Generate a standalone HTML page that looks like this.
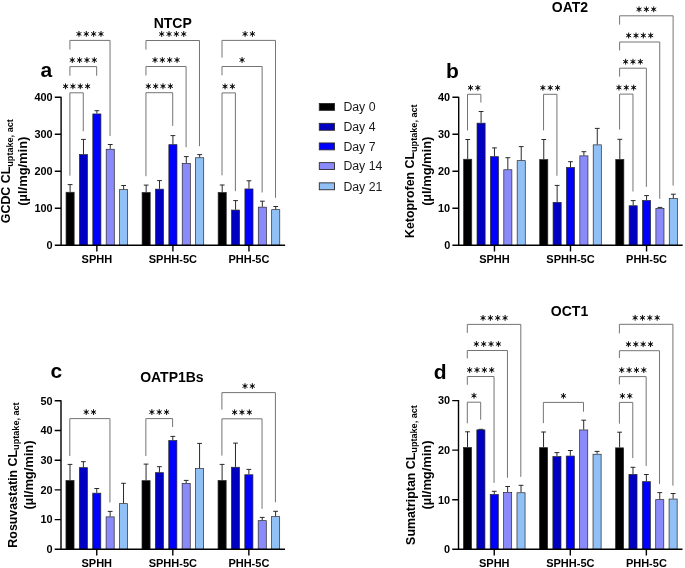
<!DOCTYPE html>
<html><head><meta charset="utf-8"><style>
html,body{margin:0;padding:0;background:#fff;}
body{width:685px;height:568px;overflow:hidden;}
svg{display:block;}
text{font-family:"Liberation Sans",sans-serif;fill:#000;}
.tk{font-size:10.9px;font-weight:bold;}
.xl{font-size:11px;font-weight:bold;}
.ti{font-size:14px;font-weight:bold;}
.lt{font-size:21px;font-weight:bold;}
.yt{font-size:12.4px;font-weight:bold;}
.yt2{font-size:12.9px;}
.sub{font-size:9.1px;font-weight:bold;}
.lg{font-size:12.3px;fill:#1a1a1a;}
</style></head><body>
<svg width="685" height="568" viewBox="0 0 685 568">
<rect width="685" height="568" fill="#fff"/>
<rect x="66.05" y="192.25" width="8.1" height="53.05" fill="#000000" stroke="#2a2a2a" stroke-width="0.7"/>
<rect x="79.43" y="154.55" width="8.1" height="90.75" fill="#0000C0" stroke="#2a2a2a" stroke-width="0.7"/>
<rect x="92.81" y="113.95" width="8.1" height="131.35" fill="#0000FF" stroke="#2a2a2a" stroke-width="0.7"/>
<rect x="106.19" y="149.25" width="8.1" height="96.05" fill="#8A8AFA" stroke="#2a2a2a" stroke-width="0.7"/>
<rect x="119.57" y="189.65" width="8.1" height="55.65" fill="#90C0F6" stroke="#2a2a2a" stroke-width="0.7"/>
<rect x="142.1" y="192.45" width="8.1" height="52.85" fill="#000000" stroke="#2a2a2a" stroke-width="0.7"/>
<rect x="155.48" y="189.15" width="8.1" height="56.15" fill="#0000C0" stroke="#2a2a2a" stroke-width="0.7"/>
<rect x="168.86" y="144.65" width="8.1" height="100.65" fill="#0000FF" stroke="#2a2a2a" stroke-width="0.7"/>
<rect x="182.24" y="163.45" width="8.1" height="81.85" fill="#8A8AFA" stroke="#2a2a2a" stroke-width="0.7"/>
<rect x="195.62" y="157.75" width="8.1" height="87.55" fill="#90C0F6" stroke="#2a2a2a" stroke-width="0.7"/>
<rect x="218.15" y="192.45" width="8.1" height="52.85" fill="#000000" stroke="#2a2a2a" stroke-width="0.7"/>
<rect x="231.53" y="210.05" width="8.1" height="35.25" fill="#0000C0" stroke="#2a2a2a" stroke-width="0.7"/>
<rect x="244.91" y="188.95" width="8.1" height="56.35" fill="#0000FF" stroke="#2a2a2a" stroke-width="0.7"/>
<rect x="258.29" y="207.15" width="8.1" height="38.15" fill="#8A8AFA" stroke="#2a2a2a" stroke-width="0.7"/>
<rect x="271.67" y="209.65" width="8.1" height="35.65" fill="#90C0F6" stroke="#2a2a2a" stroke-width="0.7"/>
<path d="M70.1 191.9V184.5M67.7 184.6h4.8M83.48 154.2V139.3M81.08 139.4h4.8M96.86 113.6V110.6M94.46 110.7h4.8M110.24 148.9V144.4M107.84 144.5h4.8M123.62 189.3V185.4M121.22 185.5h4.8M146.15 192.1V185M143.75 185.1h4.8M159.53 188.8V180.5M157.13 180.6h4.8M172.91 144.3V135.5M170.51 135.6h4.8M186.29 163.1V156.5M183.89 156.6h4.8M199.67 157.4V154.5M197.27 154.6h4.8M222.2 192.1V184.9M219.8 185h4.8M235.58 209.7V200.5M233.18 200.6h4.8M248.96 188.6V180.7M246.56 180.8h4.8M262.34 206.8V201.1M259.94 201.2h4.8M275.72 209.3V206.4M273.32 206.5h4.8" stroke="#2a2a2a" stroke-width="1" fill="none"/>
<path d="M61.1 96.7V245.3H285.1M54.8 245.3H61.1M54.8 208.3H61.1M54.8 171.3H61.1M54.8 134.3H61.1M54.8 97.3H61.1M96.86 245.3V251.5M172.91 245.3V251.5M248.96 245.3V251.5" stroke="#000" stroke-width="1.4" fill="none"/>
<rect x="463.65" y="159.25" width="8.1" height="86.05" fill="#000000" stroke="#2a2a2a" stroke-width="0.7"/>
<rect x="477.03" y="123.15" width="8.1" height="122.15" fill="#0000C0" stroke="#2a2a2a" stroke-width="0.7"/>
<rect x="490.41" y="156.65" width="8.1" height="88.65" fill="#0000FF" stroke="#2a2a2a" stroke-width="0.7"/>
<rect x="503.79" y="169.75" width="8.1" height="75.55" fill="#8A8AFA" stroke="#2a2a2a" stroke-width="0.7"/>
<rect x="517.17" y="160.65" width="8.1" height="84.65" fill="#90C0F6" stroke="#2a2a2a" stroke-width="0.7"/>
<rect x="539.7" y="159.55" width="8.1" height="85.75" fill="#000000" stroke="#2a2a2a" stroke-width="0.7"/>
<rect x="553.08" y="202.35" width="8.1" height="42.95" fill="#0000C0" stroke="#2a2a2a" stroke-width="0.7"/>
<rect x="566.46" y="167.45" width="8.1" height="77.85" fill="#0000FF" stroke="#2a2a2a" stroke-width="0.7"/>
<rect x="579.84" y="155.85" width="8.1" height="89.45" fill="#8A8AFA" stroke="#2a2a2a" stroke-width="0.7"/>
<rect x="593.22" y="144.85" width="8.1" height="100.45" fill="#90C0F6" stroke="#2a2a2a" stroke-width="0.7"/>
<rect x="615.75" y="159.45" width="8.1" height="85.85" fill="#000000" stroke="#2a2a2a" stroke-width="0.7"/>
<rect x="629.13" y="205.75" width="8.1" height="39.55" fill="#0000C0" stroke="#2a2a2a" stroke-width="0.7"/>
<rect x="642.51" y="200.45" width="8.1" height="44.85" fill="#0000FF" stroke="#2a2a2a" stroke-width="0.7"/>
<rect x="655.89" y="208.35" width="8.1" height="36.95" fill="#8A8AFA" stroke="#2a2a2a" stroke-width="0.7"/>
<rect x="669.27" y="198.45" width="8.1" height="46.85" fill="#90C0F6" stroke="#2a2a2a" stroke-width="0.7"/>
<path d="M467.7 158.9V139.4M465.3 139.5h4.8M481.08 122.8V111.4M478.68 111.5h4.8M494.46 156.3V147.8M492.06 147.9h4.8M507.84 169.4V157.6M505.44 157.7h4.8M521.22 160.3V146.5M518.82 146.6h4.8M543.75 159.2V139.4M541.35 139.5h4.8M557.13 202V185.3M554.73 185.4h4.8M570.51 167.1V161.6M568.11 161.7h4.8M583.89 155.5V151.6M581.49 151.7h4.8M597.27 144.5V128.3M594.87 128.4h4.8M619.8 159.1V139.2M617.4 139.3h4.8M633.18 205.4V200.5M630.78 200.6h4.8M646.56 200.1V195.5M644.16 195.6h4.8M659.94 208V207.3M657.54 207.4h4.8M673.32 198.1V194.1M670.92 194.2h4.8" stroke="#2a2a2a" stroke-width="1" fill="none"/>
<path d="M458.7 96.7V245.3H682.7M452.4 245.3H458.7M452.4 208.3H458.7M452.4 171.3H458.7M452.4 134.3H458.7M452.4 97.3H458.7M494.46 245.3V251.5M570.51 245.3V251.5M646.56 245.3V251.5" stroke="#000" stroke-width="1.4" fill="none"/>
<rect x="65.95" y="480.45" width="8.1" height="68.85" fill="#000000" stroke="#2a2a2a" stroke-width="0.7"/>
<rect x="79.33" y="467.65" width="8.1" height="81.65" fill="#0000C0" stroke="#2a2a2a" stroke-width="0.7"/>
<rect x="92.71" y="493.15" width="8.1" height="56.15" fill="#0000FF" stroke="#2a2a2a" stroke-width="0.7"/>
<rect x="106.09" y="516.85" width="8.1" height="32.45" fill="#8A8AFA" stroke="#2a2a2a" stroke-width="0.7"/>
<rect x="119.47" y="503.65" width="8.1" height="45.65" fill="#90C0F6" stroke="#2a2a2a" stroke-width="0.7"/>
<rect x="142" y="480.65" width="8.1" height="68.65" fill="#000000" stroke="#2a2a2a" stroke-width="0.7"/>
<rect x="155.38" y="472.65" width="8.1" height="76.65" fill="#0000C0" stroke="#2a2a2a" stroke-width="0.7"/>
<rect x="168.76" y="440.45" width="8.1" height="108.85" fill="#0000FF" stroke="#2a2a2a" stroke-width="0.7"/>
<rect x="182.14" y="483.35" width="8.1" height="65.95" fill="#8A8AFA" stroke="#2a2a2a" stroke-width="0.7"/>
<rect x="195.52" y="468.55" width="8.1" height="80.75" fill="#90C0F6" stroke="#2a2a2a" stroke-width="0.7"/>
<rect x="218.05" y="480.45" width="8.1" height="68.85" fill="#000000" stroke="#2a2a2a" stroke-width="0.7"/>
<rect x="231.43" y="467.25" width="8.1" height="82.05" fill="#0000C0" stroke="#2a2a2a" stroke-width="0.7"/>
<rect x="244.81" y="474.75" width="8.1" height="74.55" fill="#0000FF" stroke="#2a2a2a" stroke-width="0.7"/>
<rect x="258.19" y="520.65" width="8.1" height="28.65" fill="#8A8AFA" stroke="#2a2a2a" stroke-width="0.7"/>
<rect x="271.57" y="516.65" width="8.1" height="32.65" fill="#90C0F6" stroke="#2a2a2a" stroke-width="0.7"/>
<path d="M70 480.1V464.3M67.6 464.4h4.8M83.38 467.3V461.6M80.98 461.7h4.8M96.76 492.8V488.4M94.36 488.5h4.8M110.14 516.5V511.3M107.74 511.4h4.8M123.52 503.3V483.2M121.12 483.3h4.8M146.05 480.3V464M143.65 464.1h4.8M159.43 472.3V466.6M157.03 466.7h4.8M172.81 440.1V436.3M170.41 436.4h4.8M186.19 483V480.3M183.79 480.4h4.8M199.57 468.2V443.3M197.17 443.4h4.8M222.1 480.1V464.3M219.7 464.4h4.8M235.48 466.9V443M233.08 443.1h4.8M248.86 474.4V469.3M246.46 469.4h4.8M262.24 520.3V517.3M259.84 517.4h4.8M275.62 516.3V511.2M273.22 511.3h4.8" stroke="#2a2a2a" stroke-width="1" fill="none"/>
<path d="M61 400.2V549.3H285M54.7 549.3H61M54.7 519.6H61M54.7 489.9H61M54.7 460.2H61M54.7 430.5H61M54.7 400.8H61M96.76 549.3V555.5M172.81 549.3V555.5M248.86 549.3V555.5" stroke="#000" stroke-width="1.4" fill="none"/>
<rect x="463.45" y="447.45" width="8.1" height="101.85" fill="#000000" stroke="#2a2a2a" stroke-width="0.7"/>
<rect x="476.83" y="429.85" width="8.1" height="119.45" fill="#0000C0" stroke="#2a2a2a" stroke-width="0.7"/>
<rect x="490.21" y="494.45" width="8.1" height="54.85" fill="#0000FF" stroke="#2a2a2a" stroke-width="0.7"/>
<rect x="503.59" y="492.45" width="8.1" height="56.85" fill="#8A8AFA" stroke="#2a2a2a" stroke-width="0.7"/>
<rect x="516.97" y="492.75" width="8.1" height="56.55" fill="#90C0F6" stroke="#2a2a2a" stroke-width="0.7"/>
<rect x="539.5" y="447.65" width="8.1" height="101.65" fill="#000000" stroke="#2a2a2a" stroke-width="0.7"/>
<rect x="552.88" y="456.55" width="8.1" height="92.75" fill="#0000C0" stroke="#2a2a2a" stroke-width="0.7"/>
<rect x="566.26" y="456.05" width="8.1" height="93.25" fill="#0000FF" stroke="#2a2a2a" stroke-width="0.7"/>
<rect x="579.64" y="429.95" width="8.1" height="119.35" fill="#8A8AFA" stroke="#2a2a2a" stroke-width="0.7"/>
<rect x="593.02" y="454.25" width="8.1" height="95.05" fill="#90C0F6" stroke="#2a2a2a" stroke-width="0.7"/>
<rect x="615.55" y="447.85" width="8.1" height="101.45" fill="#000000" stroke="#2a2a2a" stroke-width="0.7"/>
<rect x="628.93" y="474.35" width="8.1" height="74.95" fill="#0000C0" stroke="#2a2a2a" stroke-width="0.7"/>
<rect x="642.31" y="481.65" width="8.1" height="67.65" fill="#0000FF" stroke="#2a2a2a" stroke-width="0.7"/>
<rect x="655.69" y="499.65" width="8.1" height="49.65" fill="#8A8AFA" stroke="#2a2a2a" stroke-width="0.7"/>
<rect x="669.07" y="499.05" width="8.1" height="50.25" fill="#90C0F6" stroke="#2a2a2a" stroke-width="0.7"/>
<path d="M467.5 447.1V431.7M465.1 431.8h4.8M480.88 429.5V429.2M478.48 429.3h4.8M494.26 494.1V491.2M491.86 491.3h4.8M507.64 492.1V486.4M505.24 486.5h4.8M521.02 492.4V485.2M518.62 485.3h4.8M543.55 447.3V431.9M541.15 432h4.8M556.93 456.2V452.5M554.53 452.6h4.8M570.31 455.7V450.4M567.91 450.5h4.8M583.69 429.6V420.1M581.29 420.2h4.8M597.07 453.9V451.3M594.67 451.4h4.8M619.6 447.5V432.1M617.2 432.2h4.8M632.98 474V467.2M630.58 467.3h4.8M646.36 481.3V474.4M643.96 474.5h4.8M659.74 499.3V492.5M657.34 492.6h4.8M673.12 498.7V493.4M670.72 493.5h4.8" stroke="#2a2a2a" stroke-width="1" fill="none"/>
<path d="M458.5 400V549.3H682.5M452.2 549.3H458.5M452.2 499.73H458.5M452.2 450.17H458.5M452.2 400.6H458.5M494.26 549.3V555.5M570.31 549.3V555.5M646.36 549.3V555.5" stroke="#000" stroke-width="1.4" fill="none"/>
<path d="M69.9 175.7V92.8H83.28V131.3M69.9 75.7V66.6H96.66V75.7M69.9 49.5V40.4H110.04V136.1M145.95 176.2V92.7H172.71V125.9M145.95 75.4V66.5H186.09V147.2M145.95 49.6V40.5H199.47V146.2M222 175.3V92.9H235.38V191.2M222 75.3V66.5H262.14V192.5M222 57.6V40.4H275.52V197.8M467.5 130.4V94.3H480.88V102.6M543.55 130.4V94.3H556.93V175.8M619.6 129.6V94.1H632.98V191.5M619.6 76.6V68.2H646.36V186.9M619.6 50.4V42H659.74V198.8M619.6 24.6V15.8H673.12V185.6M69.8 456V418.6H109.94V502.5M145.85 456V418.6H172.61V427M221.9 455.6V418.8H262.04V508.8M221.9 409.6V392.6H275.42V502.3M467.3 423.3V402.2H480.68V419.7M467.3 384.8V376.5H494.06V482.9M467.3 358.4V350.5H507.44V477.8M467.3 332.9V324.4H520.82V476.9M543.35 423.1V402.4H583.49V411.7M619.4 423.7V402.4H632.78V458.1M619.4 384.4V376.6H646.16V465.9M619.4 358V350.7H659.54V484.1M619.4 333.4V324.3H672.92V485.6" stroke="#747474" stroke-width="1" fill="none"/>
<path d="M65.56 83.4L65.56 89.2M63.05 84.85L68.08 87.75M63.05 87.75L68.08 84.85M72.91 83.4L72.91 89.2M70.4 84.85L75.43 87.75M70.4 87.75L75.43 84.85M80.27 83.4L80.27 89.2M77.75 84.85L82.78 87.75M77.75 87.75L82.78 84.85M87.61 83.4L87.61 89.2M85.1 84.85L90.13 87.75M85.1 87.75L90.13 84.85M72.25 57.2L72.25 63M69.74 58.65L74.77 61.55M69.74 61.55L74.77 58.65M79.6 57.2L79.6 63M77.09 58.65L82.12 61.55M77.09 61.55L82.12 58.65M86.95 57.2L86.95 63M84.44 58.65L89.47 61.55M84.44 61.55L89.47 58.65M94.3 57.2L94.3 63M91.79 58.65L96.82 61.55M91.79 61.55L96.82 58.65M78.94 31L78.94 36.8M76.43 32.45L81.46 35.35M76.43 35.35L81.46 32.45M86.29 31L86.29 36.8M83.78 32.45L88.81 35.35M83.78 35.35L88.81 32.45M93.64 31L93.64 36.8M91.13 32.45L96.16 35.35M91.13 35.35L96.16 32.45M100.99 31L100.99 36.8M98.48 32.45L103.51 35.35M98.48 35.35L103.51 32.45M148.31 83.3L148.31 89.1M145.79 84.75L150.82 87.65M145.79 87.65L150.82 84.75M155.66 83.3L155.66 89.1M153.14 84.75L158.17 87.65M153.14 87.65L158.17 84.75M163 83.3L163 89.1M160.49 84.75L165.52 87.65M160.49 87.65L165.52 84.75M170.36 83.3L170.36 89.1M167.84 84.75L172.87 87.65M167.84 87.65L172.87 84.75M155 57.1L155 62.9M152.48 58.55L157.51 61.45M152.48 61.45L157.51 58.55M162.34 57.1L162.34 62.9M159.83 58.55L164.86 61.45M159.83 61.45L164.86 58.55M169.69 57.1L169.69 62.9M167.18 58.55L172.21 61.45M167.18 61.45L172.21 58.55M177.05 57.1L177.05 62.9M174.53 58.55L179.56 61.45M174.53 61.45L179.56 58.55M161.69 31.1L161.69 36.9M159.17 32.55L164.2 35.45M159.17 35.45L164.2 32.55M169.04 31.1L169.04 36.9M166.52 32.55L171.55 35.45M166.52 35.45L171.55 32.55M176.39 31.1L176.39 36.9M173.87 32.55L178.9 35.45M173.87 35.45L178.9 32.55M183.74 31.1L183.74 36.9M181.22 32.55L186.25 35.45M181.22 35.45L186.25 32.55M225.02 83.5L225.02 89.3M222.5 84.95L227.53 87.85M222.5 87.85L227.53 84.95M232.37 83.5L232.37 89.3M229.85 84.95L234.88 87.85M229.85 87.85L234.88 84.95M242.07 57.1L242.07 62.9M239.56 58.55L244.58 61.45M239.56 61.45L244.58 58.55M245.08 31L245.08 36.8M242.57 32.45L247.6 35.35M242.57 35.35L247.6 32.45M252.43 31L252.43 36.8M249.92 32.45L254.95 35.35M249.92 35.35L254.95 32.45M470.51 84.9L470.51 90.7M468 86.35L473.03 89.25M468 89.25L473.03 86.35M477.87 84.9L477.87 90.7M475.35 86.35L480.38 89.25M475.35 89.25L480.38 86.35M542.89 84.9L542.89 90.7M540.38 86.35L545.4 89.25M540.38 89.25L545.4 86.35M550.24 84.9L550.24 90.7M547.73 86.35L552.75 89.25M547.73 89.25L552.75 86.35M557.59 84.9L557.59 90.7M555.08 86.35L560.1 89.25M555.08 89.25L560.1 86.35M618.94 84.7L618.94 90.5M616.43 86.15L621.45 89.05M616.43 89.05L621.45 86.15M626.29 84.7L626.29 90.5M623.78 86.15L628.8 89.05M623.78 89.05L628.8 86.15M633.64 84.7L633.64 90.5M631.13 86.15L636.15 89.05M631.13 89.05L636.15 86.15M625.63 58.8L625.63 64.6M623.12 60.25L628.14 63.15M623.12 63.15L628.14 60.25M632.98 58.8L632.98 64.6M630.47 60.25L635.49 63.15M630.47 63.15L635.49 60.25M640.33 58.8L640.33 64.6M637.82 60.25L642.84 63.15M637.82 63.15L642.84 60.25M628.64 32.6L628.64 38.4M626.13 34.05L631.16 36.95M626.13 36.95L631.16 34.05M635.99 32.6L635.99 38.4M633.48 34.05L638.51 36.95M633.48 36.95L638.51 34.05M643.34 32.6L643.34 38.4M640.83 34.05L645.86 36.95M640.83 36.95L645.86 34.05M650.69 32.6L650.69 38.4M648.18 34.05L653.21 36.95M648.18 36.95L653.21 34.05M639.01 6.4L639.01 12.2M636.5 7.85L641.52 10.75M636.5 10.75L641.52 7.85M646.36 6.4L646.36 12.2M643.85 7.85L648.87 10.75M643.85 10.75L648.87 7.85M653.71 6.4L653.71 12.2M651.2 7.85L656.22 10.75M651.2 10.75L656.22 7.85M86.2 409.2L86.2 415M83.68 410.65L88.71 413.55M83.68 413.55L88.71 410.65M93.55 409.2L93.55 415M91.03 410.65L96.06 413.55M91.03 413.55L96.06 410.65M151.88 409.2L151.88 415M149.37 410.65L154.39 413.55M149.37 413.55L154.39 410.65M159.23 409.2L159.23 415M156.72 410.65L161.74 413.55M156.72 413.55L161.74 410.65M166.58 409.2L166.58 415M164.07 410.65L169.09 413.55M164.07 413.55L169.09 410.65M234.62 409.4L234.62 415.2M232.11 410.85L237.13 413.75M232.11 413.75L237.13 410.85M241.97 409.4L241.97 415.2M239.46 410.85L244.48 413.75M239.46 413.75L244.48 410.85M249.32 409.4L249.32 415.2M246.81 410.85L251.83 413.75M246.81 413.75L251.83 410.85M244.98 383.2L244.98 389M242.47 384.65L247.5 387.55M242.47 387.55L247.5 384.65M252.33 383.2L252.33 389M249.82 384.65L254.85 387.55M249.82 387.55L254.85 384.65M473.99 392.8L473.99 398.6M471.48 394.25L476.5 397.15M471.48 397.15L476.5 394.25M469.66 367.1L469.66 372.9M467.14 368.55L472.17 371.45M467.14 371.45L472.17 368.55M477.01 367.1L477.01 372.9M474.49 368.55L479.52 371.45M474.49 371.45L479.52 368.55M484.36 367.1L484.36 372.9M481.84 368.55L486.87 371.45M481.84 371.45L486.87 368.55M491.71 367.1L491.71 372.9M489.19 368.55L494.22 371.45M489.19 371.45L494.22 368.55M476.35 341.1L476.35 346.9M473.83 342.55L478.86 345.45M473.83 345.45L478.86 342.55M483.7 341.1L483.7 346.9M481.18 342.55L486.21 345.45M481.18 345.45L486.21 342.55M491.05 341.1L491.05 346.9M488.53 342.55L493.56 345.45M488.53 345.45L493.56 342.55M498.4 341.1L498.4 346.9M495.88 342.55L500.91 345.45M495.88 345.45L500.91 342.55M483.03 315L483.03 320.8M480.52 316.45L485.55 319.35M480.52 319.35L485.55 316.45M490.38 315L490.38 320.8M487.87 316.45L492.9 319.35M487.87 319.35L492.9 316.45M497.73 315L497.73 320.8M495.22 316.45L500.25 319.35M495.22 319.35L500.25 316.45M505.08 315L505.08 320.8M502.57 316.45L507.6 319.35M502.57 319.35L507.6 316.45M563.42 393L563.42 398.8M560.91 394.45L565.93 397.35M560.91 397.35L565.93 394.45M622.41 393L622.41 398.8M619.9 394.45L624.93 397.35M619.9 397.35L624.93 394.45M629.76 393L629.76 398.8M627.25 394.45L632.28 397.35M627.25 397.35L632.28 394.45M621.75 367.2L621.75 373M619.24 368.65L624.27 371.55M619.24 371.55L624.27 368.65M629.11 367.2L629.11 373M626.59 368.65L631.62 371.55M626.59 371.55L631.62 368.65M636.46 367.2L636.46 373M633.94 368.65L638.97 371.55M633.94 371.55L638.97 368.65M643.8 367.2L643.8 373M641.29 368.65L646.32 371.55M641.29 371.55L646.32 368.65M628.45 341.3L628.45 347.1M625.93 342.75L630.96 345.65M625.93 345.65L630.96 342.75M635.8 341.3L635.8 347.1M633.28 342.75L638.31 345.65M633.28 345.65L638.31 342.75M643.15 341.3L643.15 347.1M640.63 342.75L645.66 345.65M640.63 345.65L645.66 342.75M650.5 341.3L650.5 347.1M647.98 342.75L653.01 345.65M647.98 345.65L653.01 342.75M635.13 314.9L635.13 320.7M632.62 316.35L637.65 319.25M632.62 319.25L637.65 316.35M642.49 314.9L642.49 320.7M639.97 316.35L645 319.25M639.97 319.25L645 316.35M649.84 314.9L649.84 320.7M647.32 316.35L652.35 319.25M647.32 319.25L652.35 316.35M657.18 314.9L657.18 320.7M654.67 316.35L659.7 319.25M654.67 319.25L659.7 316.35" stroke="#111" stroke-width="1.0" fill="none" stroke-linecap="butt"/>
<g fill="#111"><circle cx="65.56" cy="86.3" r="1.25"/><circle cx="72.91" cy="86.3" r="1.25"/><circle cx="80.27" cy="86.3" r="1.25"/><circle cx="87.61" cy="86.3" r="1.25"/><circle cx="72.25" cy="60.1" r="1.25"/><circle cx="79.6" cy="60.1" r="1.25"/><circle cx="86.95" cy="60.1" r="1.25"/><circle cx="94.3" cy="60.1" r="1.25"/><circle cx="78.94" cy="33.9" r="1.25"/><circle cx="86.29" cy="33.9" r="1.25"/><circle cx="93.64" cy="33.9" r="1.25"/><circle cx="100.99" cy="33.9" r="1.25"/><circle cx="148.31" cy="86.2" r="1.25"/><circle cx="155.66" cy="86.2" r="1.25"/><circle cx="163" cy="86.2" r="1.25"/><circle cx="170.36" cy="86.2" r="1.25"/><circle cx="155" cy="60" r="1.25"/><circle cx="162.34" cy="60" r="1.25"/><circle cx="169.69" cy="60" r="1.25"/><circle cx="177.05" cy="60" r="1.25"/><circle cx="161.69" cy="34" r="1.25"/><circle cx="169.04" cy="34" r="1.25"/><circle cx="176.39" cy="34" r="1.25"/><circle cx="183.74" cy="34" r="1.25"/><circle cx="225.02" cy="86.4" r="1.25"/><circle cx="232.37" cy="86.4" r="1.25"/><circle cx="242.07" cy="60" r="1.25"/><circle cx="245.08" cy="33.9" r="1.25"/><circle cx="252.43" cy="33.9" r="1.25"/><circle cx="470.51" cy="87.8" r="1.25"/><circle cx="477.87" cy="87.8" r="1.25"/><circle cx="542.89" cy="87.8" r="1.25"/><circle cx="550.24" cy="87.8" r="1.25"/><circle cx="557.59" cy="87.8" r="1.25"/><circle cx="618.94" cy="87.6" r="1.25"/><circle cx="626.29" cy="87.6" r="1.25"/><circle cx="633.64" cy="87.6" r="1.25"/><circle cx="625.63" cy="61.7" r="1.25"/><circle cx="632.98" cy="61.7" r="1.25"/><circle cx="640.33" cy="61.7" r="1.25"/><circle cx="628.64" cy="35.5" r="1.25"/><circle cx="635.99" cy="35.5" r="1.25"/><circle cx="643.34" cy="35.5" r="1.25"/><circle cx="650.69" cy="35.5" r="1.25"/><circle cx="639.01" cy="9.3" r="1.25"/><circle cx="646.36" cy="9.3" r="1.25"/><circle cx="653.71" cy="9.3" r="1.25"/><circle cx="86.2" cy="412.1" r="1.25"/><circle cx="93.55" cy="412.1" r="1.25"/><circle cx="151.88" cy="412.1" r="1.25"/><circle cx="159.23" cy="412.1" r="1.25"/><circle cx="166.58" cy="412.1" r="1.25"/><circle cx="234.62" cy="412.3" r="1.25"/><circle cx="241.97" cy="412.3" r="1.25"/><circle cx="249.32" cy="412.3" r="1.25"/><circle cx="244.98" cy="386.1" r="1.25"/><circle cx="252.33" cy="386.1" r="1.25"/><circle cx="473.99" cy="395.7" r="1.25"/><circle cx="469.66" cy="370" r="1.25"/><circle cx="477.01" cy="370" r="1.25"/><circle cx="484.36" cy="370" r="1.25"/><circle cx="491.71" cy="370" r="1.25"/><circle cx="476.35" cy="344" r="1.25"/><circle cx="483.7" cy="344" r="1.25"/><circle cx="491.05" cy="344" r="1.25"/><circle cx="498.4" cy="344" r="1.25"/><circle cx="483.03" cy="317.9" r="1.25"/><circle cx="490.38" cy="317.9" r="1.25"/><circle cx="497.73" cy="317.9" r="1.25"/><circle cx="505.08" cy="317.9" r="1.25"/><circle cx="563.42" cy="395.9" r="1.25"/><circle cx="622.41" cy="395.9" r="1.25"/><circle cx="629.76" cy="395.9" r="1.25"/><circle cx="621.75" cy="370.1" r="1.25"/><circle cx="629.11" cy="370.1" r="1.25"/><circle cx="636.46" cy="370.1" r="1.25"/><circle cx="643.8" cy="370.1" r="1.25"/><circle cx="628.45" cy="344.2" r="1.25"/><circle cx="635.8" cy="344.2" r="1.25"/><circle cx="643.15" cy="344.2" r="1.25"/><circle cx="650.5" cy="344.2" r="1.25"/><circle cx="635.13" cy="317.8" r="1.25"/><circle cx="642.49" cy="317.8" r="1.25"/><circle cx="649.84" cy="317.8" r="1.25"/><circle cx="657.18" cy="317.8" r="1.25"/></g>
<rect x="319.3" y="103.45" width="15.2" height="6.9" fill="#000000" stroke="#2a2a2a" stroke-width="0.9"/>
<rect x="319.3" y="123.35" width="15.2" height="6.9" fill="#0000C0" stroke="#2a2a2a" stroke-width="0.9"/>
<rect x="319.3" y="142.95" width="15.2" height="6.9" fill="#0000FF" stroke="#2a2a2a" stroke-width="0.9"/>
<rect x="319.3" y="162.65" width="15.2" height="6.9" fill="#8A8AFA" stroke="#2a2a2a" stroke-width="0.9"/>
<rect x="319.3" y="182.85" width="15.2" height="6.9" fill="#90C0F6" stroke="#2a2a2a" stroke-width="0.9"/>
<g style="filter:grayscale(1)">
<text x="52.6" y="249.1" class="tk" text-anchor="end">0</text>
<text x="52.6" y="212.1" class="tk" text-anchor="end">100</text>
<text x="52.6" y="175.1" class="tk" text-anchor="end">200</text>
<text x="52.6" y="138.1" class="tk" text-anchor="end">300</text>
<text x="52.6" y="101.1" class="tk" text-anchor="end">400</text>
<text x="96.86" y="263.1" class="xl" text-anchor="middle">SPHH</text>
<text x="172.91" y="263.1" class="xl" text-anchor="middle">SPHH-5C</text>
<text x="248.96" y="263.1" class="xl" text-anchor="middle">PHH-5C</text>
<text x="172.7" y="27.8" class="ti" text-anchor="middle">NTCP</text>
<text x="40.4" y="77.4" class="lt">a</text>
<text transform="translate(10.2 171.2) rotate(-90)" class="yt" text-anchor="middle">GCDC CL<tspan class="sub" dy="2.3">uptake, act</tspan></text>
<text transform="translate(26.9 171.2) rotate(-90)" class="yt yt2" text-anchor="middle">(µl/mg/min)</text>
<text x="450.2" y="249.1" class="tk" text-anchor="end">0</text>
<text x="450.2" y="212.1" class="tk" text-anchor="end">10</text>
<text x="450.2" y="175.1" class="tk" text-anchor="end">20</text>
<text x="450.2" y="138.1" class="tk" text-anchor="end">30</text>
<text x="450.2" y="101.1" class="tk" text-anchor="end">40</text>
<text x="494.46" y="263.1" class="xl" text-anchor="middle">SPHH</text>
<text x="570.51" y="263.1" class="xl" text-anchor="middle">SPHH-5C</text>
<text x="646.56" y="263.1" class="xl" text-anchor="middle">PHH-5C</text>
<text x="570" y="12" class="ti" text-anchor="middle">OAT2</text>
<text x="446" y="77.6" class="lt">b</text>
<text transform="translate(414.4 171.2) rotate(-90)" class="yt" text-anchor="middle">Ketoprofen CL<tspan class="sub" dy="2.3">uptake, act</tspan></text>
<text transform="translate(431.2 171.2) rotate(-90)" class="yt yt2" text-anchor="middle">(µl/mg/min)</text>
<text x="52.5" y="553.1" class="tk" text-anchor="end">0</text>
<text x="52.5" y="523.4" class="tk" text-anchor="end">10</text>
<text x="52.5" y="493.7" class="tk" text-anchor="end">20</text>
<text x="52.5" y="464" class="tk" text-anchor="end">30</text>
<text x="52.5" y="434.3" class="tk" text-anchor="end">40</text>
<text x="52.5" y="404.6" class="tk" text-anchor="end">50</text>
<text x="96.76" y="566.9" class="xl" text-anchor="middle">SPHH</text>
<text x="172.81" y="566.9" class="xl" text-anchor="middle">SPHH-5C</text>
<text x="248.86" y="566.9" class="xl" text-anchor="middle">PHH-5C</text>
<text x="171.9" y="382.1" class="ti" text-anchor="middle">OATP1Bs</text>
<text x="50.4" y="378.3" class="lt">c</text>
<text transform="translate(16.6 475) rotate(-90)" class="yt" text-anchor="middle">Rosuvastatin CL<tspan class="sub" dy="2.3">uptake, act</tspan></text>
<text transform="translate(33.4 475) rotate(-90)" class="yt yt2" text-anchor="middle">(µl/mg/min)</text>
<text x="450" y="553.1" class="tk" text-anchor="end">0</text>
<text x="450" y="503.53" class="tk" text-anchor="end">10</text>
<text x="450" y="453.97" class="tk" text-anchor="end">20</text>
<text x="450" y="404.4" class="tk" text-anchor="end">30</text>
<text x="494.26" y="566.9" class="xl" text-anchor="middle">SPHH</text>
<text x="570.31" y="566.9" class="xl" text-anchor="middle">SPHH-5C</text>
<text x="646.36" y="566.9" class="xl" text-anchor="middle">PHH-5C</text>
<text x="569.5" y="315.8" class="ti" text-anchor="middle">OCT1</text>
<text x="433.8" y="378.6" class="lt">d</text>
<text transform="translate(414.6 475) rotate(-90)" class="yt" text-anchor="middle">Sumatriptan CL<tspan class="sub" dy="2.3">uptake, act</tspan></text>
<text transform="translate(431.4 475) rotate(-90)" class="yt yt2" text-anchor="middle">(µl/mg/min)</text>
<text x="343.4" y="111.1" class="lg">Day 0</text>
<text x="343.4" y="131" class="lg">Day 4</text>
<text x="343.4" y="150.6" class="lg">Day 7</text>
<text x="343.4" y="170.3" class="lg">Day 14</text>
<text x="343.4" y="190.5" class="lg">Day 21</text>
</g>
</svg>
</body></html>
